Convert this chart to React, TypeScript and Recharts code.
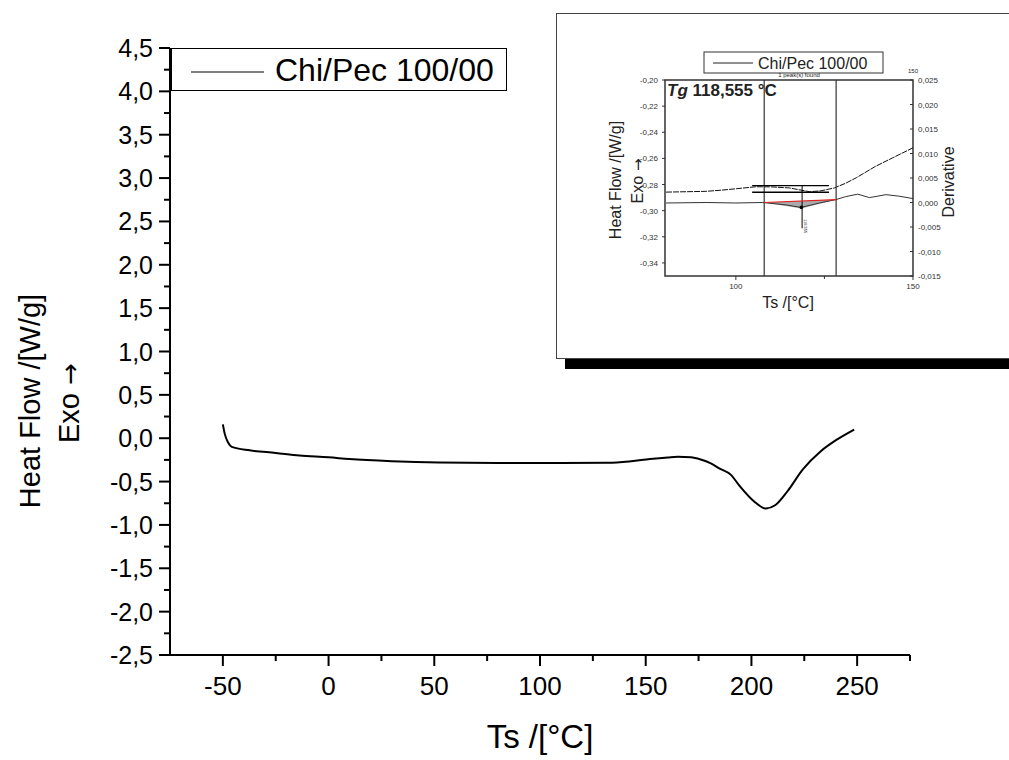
import React from "react";
import {
  LineChart,
  ComposedChart,
  Line,
  Area,
  XAxis,
  YAxis,
  ReferenceLine,
  ReferenceDot,
  Legend,
  Customized,
} from "recharts";

const FONT = "'Liberation Sans', Arial, sans-serif";

// main DSC curve: Ts (°C) vs heat flow (W/g)
const mainTs = [-50, -49.1, -47.5, -45.8, -37.3, -25, -13.8, 0, 9.8, 30, 52.2, 80, 110, 132.3, 143.1, 152, 160.5, 165.2, 171.4, 176, 180.8, 185, 190.2, 194.4, 201.3, 206.7, 211.4, 217.1, 224.3, 232.8, 240.8, 248.6];
const mainHeat = [0.16, 0.05, -0.05, -0.1, -0.14, -0.17, -0.2, -0.22, -0.24, -0.265, -0.28, -0.285, -0.285, -0.283, -0.265, -0.24, -0.222, -0.215, -0.22, -0.245, -0.29, -0.35, -0.42, -0.55, -0.73, -0.81, -0.77, -0.61, -0.36, -0.15, -0.01, 0.1];

const xMajor = [-50, 0, 50, 100, 150, 200, 250];
const xMinor = [-25, 25, 75, 125, 175, 225, 275];
const yMajor = [-2.5, -2, -1.5, -1, -0.5, 0, 0.5, 1, 1.5, 2, 2.5, 3, 3.5, 4, 4.5];
const yMinor = [-2.25, -1.75, -1.25, -0.75, -0.25, 0.25, 0.75, 1.25, 1.75, 2.25, 2.75, 3.25, 3.75, 4.25];

// inset (Tg analysis)
const insetHeatTs = [80.3, 86, 91.6, 96, 100.1, 105.7, 110, 115.1, 120.8, 124, 127.8, 131, 134, 139.6, 144.3, 150];
const insetHeat = [-0.2858, -0.2855, -0.2852, -0.2843, -0.2832, -0.2817, -0.2818, -0.2826, -0.2855, -0.2848, -0.2826, -0.279, -0.2748, -0.2658, -0.2595, -0.2519];
const insetDerTs = [80.3, 91.6, 100, 107.6, 114.2, 118.4, 123.6, 128.3, 131, 134.4, 137.7, 142.4, 146, 150];
const insetDer = [-0.0001, 0, -0.0001, 0, -0.0005, -0.001, -0.0001, 0.0006, 0.0012, 0.0017, 0.001, 0.0016, 0.0013, 0.0008];
const peakTs = [108, 118.5, 128.3];
const peakLow = [0, -0.0012, 0.0006];
const peakHigh = [0, 0.0003, 0.0006];
const cursorTs = [108, 128.3];
const stepLevels = [-0.2808, -0.2859];
const stepSpan = [104.6, 126.3];
const peakMarkT = 118.7;
const peakMarkSpan = [-0.2808, -0.3135];
const peakDot = { t: 118.5, d: -0.001 };
const insetXMajor = [100, 150];
const insetXMinor = [125];
const insetLeftTicks = [-0.34, -0.32, -0.3, -0.28, -0.26, -0.24, -0.22, -0.2];
const insetRightTicks = [-0.015, -0.01, -0.005, 0, 0.005, 0.01, 0.015, 0.02, 0.025];

const mainRows = mainTs.map((t, i) => ({ t, v: mainHeat[i] }));
const insetHeatRows = insetHeatTs.map((t, i) => ({ t, v: insetHeat[i] }));
const insetDerRows = insetDerTs.map((t, i) => ({ t, v: insetDer[i] }));
const peakRows = peakTs.map((t, i) => ({ t, r: [peakLow[i], peakHigh[i]] }));

const comma = (v: number, d: number) => v.toFixed(d).replace(".", ",");

const MainXTick = (props: any) => {
  const { x, y, payload } = props;
  const major = xMajor.includes(payload.value);
  return (
    <g>
      <line x1={x} x2={x} y1={y} y2={y + (major ? 11 : 6)} stroke="#000" strokeWidth={2} />
      {major && (
        <text x={x} y={y + 40} textAnchor="middle" fontSize={26} fontFamily={FONT} fill="#000">
          {String(payload.value)}
        </text>
      )}
    </g>
  );
};

const MainYTick = (props: any) => {
  const { x, y, payload } = props;
  const major = yMajor.includes(payload.value);
  return (
    <g>
      <line x1={x} x2={x - (major ? 11 : 6)} y1={y} y2={y} stroke="#000" strokeWidth={2} />
      {major && (
        <text x={x - 17} y={y + 9} textAnchor="end" fontSize={25} fontFamily={FONT} fill="#000">
          {comma(payload.value, 1)}
        </text>
      )}
    </g>
  );
};

const MainTitles = () => (
  <g fontFamily={FONT} fill="#000">
    <text x={540} y={748} textAnchor="middle" fontSize={33}>Ts /[°C]</text>
    <text transform="translate(40 401) rotate(-90)" textAnchor="middle" fontSize={29}>Heat Flow /[W/g]</text>
    <text transform="translate(79 403) rotate(-90)" textAnchor="middle" fontSize={29}>
      Exo<tspan fontFamily="'DejaVu Sans'" fontSize={26}> →</tspan>
    </text>
  </g>
);

const MainLegend = () => (
  <svg width={336} height={43} style={{ display: "block" }}>
    <rect x={0.5} y={0.5} width={335} height={42} fill="#fff" stroke="#000" strokeWidth={1} />
    <line x1={20} x2={93} y1={24} y2={24} stroke="#000" strokeWidth={1.2} />
    <text x={104} y={33} fontSize={32} fontFamily={FONT} fill="#000">Chi/Pec 100/00</text>
  </svg>
);

const InsetXTick = (props: any) => {
  const { x, y, payload } = props;
  const major = insetXMajor.includes(payload.value);
  return (
    <g>
      <line x1={x} x2={x} y1={y} y2={y + (major ? 4 : 3)} stroke="#333" />
      {major && (
        <text x={x} y={y + 13} textAnchor="middle" fontSize={8} fontFamily={FONT} fill="#333">
          {String(payload.value)}
        </text>
      )}
    </g>
  );
};

const InsetLeftTick = (props: any) => {
  const { x, y, payload } = props;
  return (
    <g>
      <line x1={x} x2={x - 3} y1={y} y2={y} stroke="#333" />
      <text x={x - 7} y={y + 3} textAnchor="end" fontSize={8} fontFamily={FONT} fill="#333">
        {comma(payload.value, 2)}
      </text>
    </g>
  );
};

const InsetRightTick = (props: any) => {
  const { x, y, payload } = props;
  return (
    <g>
      <line x1={x} x2={x - 3} y1={y} y2={y} stroke="#333" />
      <text x={x + 5} y={y + 3} textAnchor="start" fontSize={8} fontFamily={FONT} fill="#333">
        {comma(payload.value, 3)}
      </text>
    </g>
  );
};

const InsetDecor = () => (
  <g fontFamily={FONT} fill="#222">
    <rect x={108} y={66} width={248} height={196} fill="none" stroke="#333" strokeWidth={1.5} />
    <rect x={147} y={38} width={179} height={21} fill="#fff" stroke="#333" strokeWidth={1} />
    <line x1={156} x2={196} y1={49} y2={49} stroke="#222" />
    <text x={201} y={55} fontSize={16}>Chi/Pec 100/00</text>
    <text x={242} y={63} textAnchor="middle" fontSize={6}>1 peak(s) found</text>
    <text x={356} y={59} textAnchor="middle" fontSize={6}>150</text>
    <text x={110} y={82} fontSize={17} fontWeight="bold">
      <tspan fontStyle="italic">Tg</tspan> 118,555 °C
    </text>
    <text transform="translate(64 166) rotate(-90)" textAnchor="middle" fontSize={16}>Heat Flow /[W/g]</text>
    <text transform="translate(86 167) rotate(-90)" textAnchor="middle" fontSize={16}>
      Exo<tspan fontFamily="'DejaVu Sans'" fontSize={15}> →</tspan>
    </text>
    <text transform="translate(397 168) rotate(-90)" textAnchor="middle" fontSize={16}>Derivative</text>
    <text x={231} y={294} textAnchor="middle" fontSize={16}>Ts /[°C]</text>
    <text transform="translate(247 205) rotate(90)" fontSize={4}>118,555</text>
  </g>
);

export default function App() {
  return (
    <div style={{ position: "absolute", left: 0, top: 0, width: 1009, height: 760, overflow: "hidden", background: "#fff" }}>
      <LineChart width={1009} height={760} data={mainRows} margin={{ top: 48, right: 99, bottom: 104, left: 169 }}>
        <XAxis
          dataKey="t"
          type="number"
          domain={[-75, 275]}
          ticks={[...xMajor, ...xMinor]}
          interval={0}
          height={1}
          tickSize={0}
          tickMargin={0}
          tickLine={false}
          axisLine={{ stroke: "#000", strokeWidth: 2 }}
          tick={<MainXTick />}
          allowDataOverflow
        />
        <YAxis
          type="number"
          domain={[-2.5, 4.5]}
          ticks={[...yMajor, ...yMinor]}
          interval={0}
          width={1}
          tickSize={0}
          tickMargin={0}
          tickLine={false}
          axisLine={{ stroke: "#000", strokeWidth: 2 }}
          tick={<MainYTick />}
          allowDataOverflow
        />
        <Line dataKey="v" type="monotone" stroke="#000" strokeWidth={2} dot={false} isAnimationActive={false} />
        <Legend
          layout="vertical"
          align="center"
          verticalAlign="middle"
          wrapperStyle={{ left: 171, top: 48, width: 336, height: 43 }}
          content={() => <MainLegend />}
        />
        <Customized component={<MainTitles />} />
      </LineChart>

      <div style={{ position: "absolute", left: 565, top: 358, width: 460, height: 11, background: "#000" }} />
      <div style={{ position: "absolute", left: 556, top: 13, width: 470, height: 344, border: "1.5px solid #444", background: "#fff" }}>
        <ComposedChart width={452} height={344} margin={{ top: 66, right: 95, bottom: 81, left: 107 }}>
          <XAxis
            dataKey="t"
            type="number"
            domain={[80, 150]}
            ticks={[...insetXMajor, ...insetXMinor]}
            interval={0}
            height={1}
            tickSize={0}
            tickMargin={0}
            tickLine={false}
            axisLine={false}
            tick={<InsetXTick />}
            allowDataOverflow
          />
          <YAxis
            yAxisId="hf"
            type="number"
            domain={[-0.35, -0.2]}
            ticks={insetLeftTicks}
            interval={0}
            width={1}
            tickSize={0}
            tickMargin={0}
            tickLine={false}
            axisLine={false}
            tick={<InsetLeftTick />}
            allowDataOverflow
          />
          <YAxis
            yAxisId="der"
            orientation="right"
            type="number"
            domain={[-0.015, 0.025]}
            ticks={insetRightTicks}
            interval={0}
            width={1}
            tickSize={0}
            tickMargin={0}
            tickLine={false}
            axisLine={false}
            tick={<InsetRightTick />}
            allowDataOverflow
          />
          <Area yAxisId="der" data={peakRows} dataKey="r" type="linear" fill="#aaa" fillOpacity={1} stroke="none" isAnimationActive={false} />
          <Line yAxisId="hf" data={insetHeatRows} dataKey="v" type="linear" stroke="#111" strokeWidth={1} strokeDasharray="6 1" dot={false} isAnimationActive={false} />
          <Line yAxisId="der" data={insetDerRows} dataKey="v" type="linear" stroke="#333" strokeWidth={1} dot={false} isAnimationActive={false} />
          {cursorTs.map((t) => (
            <ReferenceLine key={"c" + t} yAxisId="hf" x={t} stroke="#333" strokeWidth={1.2} />
          ))}
          {stepLevels.map((lv) => (
            <ReferenceLine
              key={"s" + lv}
              yAxisId="hf"
              segment={[{ x: stepSpan[0], y: lv }, { x: stepSpan[1], y: lv }]}
              stroke="#000"
              strokeWidth={1.4}
            />
          ))}
          <ReferenceLine
            yAxisId="hf"
            segment={[{ x: peakMarkT, y: peakMarkSpan[0] }, { x: peakMarkT, y: peakMarkSpan[1] }]}
            stroke="#000"
            strokeWidth={1}
          />
          <ReferenceLine
            yAxisId="der"
            segment={[{ x: peakTs[0], y: peakLow[0] }, { x: peakTs[2], y: peakLow[2] }]}
            stroke="#e02020"
            strokeWidth={1.2}
          />
          <ReferenceDot yAxisId="der" x={peakDot.t} y={peakDot.d} r={1.8} fill="#000" stroke="none" />
          <Customized component={<InsetDecor />} />
        </ComposedChart>
      </div>
    </div>
  );
}
